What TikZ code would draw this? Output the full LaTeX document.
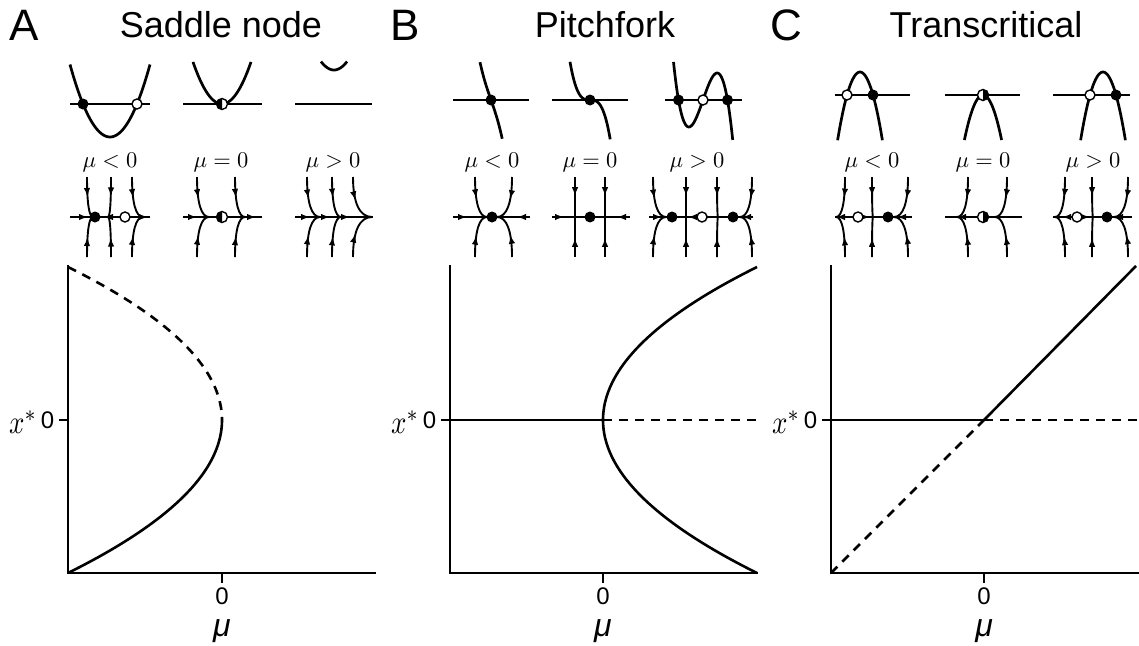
\documentclass[tikz,border=0pt]{standalone}
\usepackage{graphicx}
\usepackage{fontspec}
\setmainfont{Liberation Sans}
\usetikzlibrary{arrows.meta,decorations.markings}
\tikzset{fn/.style={line width=2.7pt},axisl/.style={line width=2.6pt},phaseline/.style={line width=2.4pt},
 traj/.style={line width=1.9pt,postaction={decorate},decoration={markings,mark=at position .48 with {\arrow{Latex[length=9pt,width=6.5pt]}}}},
 flowtip/.style={-{Latex[length=9pt,width=6.5pt]},line width=1.9pt},
 stab/.style={line width=2.6pt},unstab/.style={line width=2.6pt,dash pattern=on 9pt off 7pt},
 sdot/.style={fill=black},udot/.style={draw=black,fill=white,line width=1.4pt},
 letter/.style={font=\fontsize{44}{48}\selectfont},panel/.style={font=\fontsize{36}{40}\selectfont},
 ticklabel/.style={font=\fontsize{24}{28}\selectfont},mulabel/.style={font=\fontsize{32}{34}\selectfont\itshape}}
\newcommand\traj[2]{\draw[traj] (#1,177) .. controls (#1,203) and ({#1+.35*(#2-#1)},217) .. (#2,217);
 \draw[traj] (#1,257) .. controls (#1,231) and ({#1+.35*(#2-#1)},217) .. (#2,217);}
\newcommand\halfdot[3]{\fill[white] (#1,#2) circle[radius=5.5]; \fill (#1,#2) ++(#3:5.5) arc[start angle=#3,delta angle=180,radius=5.5] -- cycle; \draw[line width=1.4pt] (#1,#2) circle[radius=5.5];}
\begin{document}
\begin{tikzpicture}[x=1pt,y=-1pt]
 \useasboundingbox (0,0) rectangle (1139,645);
 \node[letter,anchor=base west] (lA) at (6,40) {A}; \node[letter,anchor=base west] (lB) at (387,40) {B}; \node[letter,anchor=base west] (lC) at (767,40) {C};
 \node[panel,anchor=base] (tA) at (221,37) {Saddle node}; \node[panel,anchor=base] (tB) at (605,37) {Pitchfork}; \node[panel,anchor=base] (tC) at (986,37) {Transcritical};
 \draw[fn] (70,104) -- (150,104) (183,104) -- (262,104) (295,104) -- (372,104);
 \draw[fn,domain=70:150,samples=50] plot (\x,{137-0.0453*(\x-110)^2});
 \draw[fn,domain=193:251,samples=50] plot (\x,{104-0.05*(\x-222)^2});
 \draw[fn,domain=321:347,samples=30] plot (\x,{70-0.05*(\x-334)^2});
 \fill[sdot] (83,104) circle[radius=5.5]; \draw[udot] (137,104) circle[radius=5]; \halfdot{222}{104}{90}
 \draw[fn] (453,100) -- (529,100) (552,100) -- (628,100) (665,100) -- (742,100);
 \draw[fn,domain=-1.1:1.12,samples=40] plot ({491+10*\x},{100+4.77*(\x^3+6*\x)});
 \draw[fn,domain=-2:2.02,samples=40] plot ({590+10*\x},{100+4.77*\x^3});
 \draw[fn,domain=-2.95:2.97,samples=80] plot ({703+10*\x},{100+4.77*(\x^3-6*\x)});
 \foreach \d in {491,590,678.5,727.5} \fill[sdot] (\d,100) circle[radius=5.5]; \draw[udot] (703,100) circle[radius=5];
 \draw[fn] (835,95) -- (910,95) (945,95) -- (1020,95) (1053,95) -- (1130,95);
 \draw[fn,domain=837.6:882.4,samples=40] plot (\x,{72+0.136*(\x-860)^2});
 \draw[fn,domain=964.4:1001.6,samples=40] plot (\x,{95+0.13*(\x-983)^2});
 \draw[fn,domain=1080.6:1125.4,samples=40] plot (\x,{72+0.136*(\x-1103)^2});
 \draw[udot] (847,95) circle[radius=5]; \fill[sdot] (873,95) circle[radius=5.5]; \halfdot{983}{95}{-90}
 \draw[udot] (1090,95) circle[radius=5]; \fill[sdot] (1116,95) circle[radius=5.5];
 \foreach \xm/\rel in {110/<,221/=,333/>,492/<,590/=,697/>,872/<,983/=,1093/>} \node[anchor=base] (m\xm) at (\xm,167) {\scalebox{2.25}{$\mu\rel0$}};
 \draw[phaseline] (70,217) -- (150,217) (183,217) -- (262,217) (295,217) -- (373,217) (453,217) -- (530,217) (552,217) -- (630,217) (649,217) -- (753,217) (835,217) -- (912,217) (945,217) -- (1022,217) (1053,217) -- (1132,217);
 \traj{87}{93} \traj{111}{108} \traj{132}{143} \traj{197}{209} \traj{235}{245} \traj{307}{320} \traj{332}{341} \traj{353}{372}
 \traj{475}{487} \traj{512}{497} \traj{575}{575} \traj{605}{605} \traj{653}{666} \traj{686}{686} \traj{717}{718} \traj{752}{740}
 \traj{845}{836} \traj{872}{873} \traj{908}{894} \traj{968}{957} \traj{1007}{995} \traj{1065}{1055} \traj{1092}{1093} \traj{1128}{1114}
 \foreach \t/\s in {88/1,104/-1,148/1,197/1,256/1,310/1,330/1,350/1,467/1,517/-1,564/1,617/-1,662/1,688/-1,712/1,742/-1,836/-1,870/1,897/-1,957/-1,974/-1,1062/-1,1090/1,1114/-1}
  \draw[flowtip] ({\t-9*\s},217) -- (\t,217);
 \fill[sdot] (95,217) circle[radius=5.5]; \draw[udot] (125,217) circle[radius=5]; \halfdot{222}{217}{90}
 \foreach \d in {492,590,672,733} \fill[sdot] (\d,217) circle[radius=5.5]; \draw[udot] (702,217) circle[radius=5];
 \draw[udot] (858,217) circle[radius=5]; \fill[sdot] (888,217) circle[radius=5.5]; \halfdot{983}{217}{-90}
 \draw[udot] (1077,217) circle[radius=5]; \fill[sdot] (1107,217) circle[radius=5.5];
 \foreach \ax/\zx/\n in {68/222/A,450/603/B,831/984/C}{
  \draw[axisl] (\ax,265) -- (\ax,573) -- ({\ax+308},573) (\zx,573) -- (\zx,583) ({\ax-9},420) -- (\ax,420);
  \node[ticklabel,anchor=base] (zx\n) at (\zx,604) {0}; \node[mulabel,anchor=base] (mu\n) at (\zx,636) {μ};
  \node[ticklabel] (zy\n) at ({\ax-20.5},420) {0}; \node[anchor=base west,inner sep=0] (xs\n) at ({\ax-59},433) {\scalebox{2.7}[3.3]{$x^*$}};}
 \draw[stab,domain=0:1,samples=50] plot ({222-154*\x*\x},{420+153*\x});
 \draw[unstab,domain=-1:0,samples=50] plot ({222-154*\x*\x},{420+153*\x});
 \draw[stab] (450,420) -- (603,420); \draw[unstab] (603,420) -- (757,420);
 \draw[stab,domain=-1:1,samples=80] plot ({603+154*\x*\x},{420+153*\x});
 \draw[stab] (831,420) -- (984,420); \draw[unstab] (984,420) -- (1138,420);
 \draw[stab] (984,420) -- (1136,266); \draw[unstab] (831,573) -- (984,420);
\end{tikzpicture}
\end{document}
